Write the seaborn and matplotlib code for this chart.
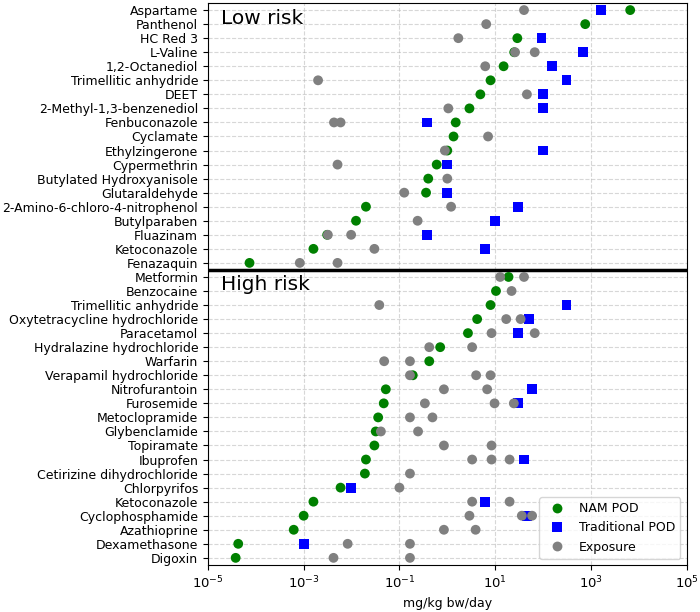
import numpy as np
import pandas as pd
import seaborn as sns
from matplotlib import pyplot as plt
from matplotlib.ticker import NullLocator

# chemicals, top to bottom
low_names = ["Aspartame", "Panthenol", "HC Red 3", "L-Valine", "1,2-Octanediol",
             "Trimellitic anhydride", "DEET", "2-Methyl-1,3-benzenediol", "Fenbuconazole",
             "Cyclamate", "Ethylzingerone", "Cypermethrin", "Butylated Hydroxyanisole",
             "Glutaraldehyde", "2-Amino-6-chloro-4-nitrophenol", "Butylparaben",
             "Fluazinam", "Ketoconazole", "Fenazaquin"]
high_names = ["Metformin", "Benzocaine", "Trimellitic anhydride",
              "Oxytetracycline hydrochloride", "Paracetamol", "Hydralazine hydrochloride",
              "Warfarin", "Verapamil hydrochloride", "Nitrofurantoin", "Furosemide",
              "Metoclopramide", "Glybenclamide", "Topiramate", "Ibuprofen",
              "Cetirizine dihydrochloride", "Chlorpyrifos", "Ketoconazole",
              "Cyclophosphamide", "Azathioprine", "Dexamethasone", "Digoxin"]

# mg/kg bw/day
nam_low = [6600, 760, 29, 25, 15, 8, 4.9, 2.9, 1.5, 1.35, 1.0, 0.6, 0.40, 0.36,
           0.020, 0.0124, 0.0031, 0.0016, 7.4e-5]
trad_low = [1600, None, 93, 670, 156, 310, 100, 100, 0.38, None, 100, 0.98, None,
            1.0, 30, 10, 0.38, 6.2, None]
exp_low = [[40], [6.5], [1.7], [26, 67], [6.2], [0.002], [46], [1.05],
           [0.0043, 0.0059], [7.1], [0.89], [0.0051], [1.0], [0.126], [1.2],
           [0.24], [0.0032, 0.0098], [0.030], [0.00083, 0.0051]]

nam_high = [19, 10.4, 8, 4.2, 2.7, 0.71, 0.42, 0.19, 0.052, 0.047, 0.036, 0.032,
            0.030, 0.020, 0.019, 0.0059, 0.0016, 0.001, 6.2e-4, 4.3e-5, 3.8e-5]
trad_high = [None, None, 310, 50, 30, None, None, None, 59, 30, None, None, None,
             40, None, 0.0098, 6.2, 47, None, 0.001, None]
exp_high = [[12.7, 40], [22], [0.038], [17, 34], [8.4, 67], [0.42, 3.3],
            [0.048, 0.166], [0.166, 4.0, 8], [0.85, 6.8], [0.34, 9.7, 24.5],
            [0.166, 0.49], [0.041, 0.245], [0.85, 8.4], [3.3, 8.4, 20], [0.166],
            [0.1], [3.3, 20], [2.9, 36, 59], [0.85, 3.9], [0.0083, 0.166],
            [0.0042, 0.166]]

names = low_names + high_names
nam = nam_low + nam_high
trad = trad_low + trad_high
exposure = exp_low + exp_high

rows = []
for i, v in enumerate(nam):
    rows.append((i, v, "NAM POD"))
for i, v in enumerate(trad):
    if v is not None:
        rows.append((i, v, "Traditional POD"))
for i, vals in enumerate(exposure):
    for v in vals:
        rows.append((i, v, "Exposure"))
df = pd.DataFrame(rows, columns=["row", "value", "kind"])

plt.rcParams["font.size"] = 9

fig, ax = plt.subplots(figsize=(7, 6.12), dpi=100)
sns.scatterplot(data=df, x="value", y="row", hue="kind", style="kind",
                hue_order=["NAM POD", "Traditional POD", "Exposure"],
                style_order=["NAM POD", "Traditional POD", "Exposure"],
                palette={"NAM POD": "green", "Traditional POD": "blue", "Exposure": "gray"},
                markers={"NAM POD": "o", "Traditional POD": "s", "Exposure": "o"},
                s=50, linewidth=0, ax=ax, zorder=3)

ax.set_xscale("log")
ax.set_xlim(1e-5, 1e5)
ax.set_xticks([1e-5, 1e-3, 1e-1, 1e1, 1e3, 1e5])
ax.xaxis.set_minor_locator(NullLocator())
ax.set_yticks(range(len(names)))
ax.set_yticklabels(names)
ax.set_ylim(len(names) - 0.5, -0.5)
ax.tick_params(axis="x", labelsize=9.5)
ax.set_xlabel("mg/kg bw/day")
ax.set_ylabel("")
ax.grid(True, linestyle="--", alpha=0.5)
ax.set_axisbelow(True)

ax.axhline(len(low_names) - 0.5, color="black", linewidth=2.5)
trans = ax.get_yaxis_transform()
ax.text(0.028, -0.08, "Low risk", transform=trans, fontsize=14.5, va="top")
ax.text(0.028, len(low_names) - 0.15, "High risk", transform=trans, fontsize=14.5, va="top")

sns.move_legend(ax, "lower right", title=None)

plt.subplots_adjust(left=0.297, right=0.981, top=0.995, bottom=0.077)
plt.savefig("out.png")
